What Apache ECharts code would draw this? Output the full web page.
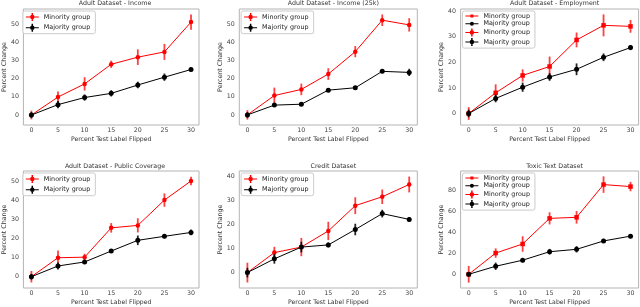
<!DOCTYPE html>
<html>
<head>
<meta charset="utf-8">
<script src="https://cdn.jsdelivr.net/npm/echarts@6/dist/echarts.min.js"></script>
<style>
html,body{margin:0;padding:0;background:#fff;}
#chart{width:640px;height:307px;}
</style>
</head>
<body>
<div id="chart"></div>
<script>
// ---- data ----
var flipped = [0, 5, 10, 15, 20, 25, 30];
var xTicks = [0, 5, 10, 15, 20, 25, 30];

var titles = ['Adult Dataset - Income', 'Adult Dataset - Income (25k)', 'Adult Dataset - Employment',
              'Adult Dataset - Public Coverage', 'Credit Dataset', 'Toxic Text Dataset'];

var incomeMin     = [0, 9.9, 17.1, 27.9, 31.8, 34.7, 51.1];
var incomeMinErr  = [2.4, 3.0, 3.7, 2.0, 4.3, 4.4, 4.2];
var incomeMaj     = [0, 5.7, 9.6, 11.9, 16.5, 20.8, 25.0];
var incomeMajErr  = [1.5, 2.0, 1.7, 1.7, 1.8, 2.0, 1.0];

var income25Min    = [0, 10.7, 14.1, 22.6, 35.0, 52.4, 49.8];
var income25MinErr = [2.6, 4.4, 3.2, 3.2, 3.1, 3.2, 3.7];
var income25Maj    = [0, 5.4, 5.9, 13.7, 15.0, 24.1, 23.5];
var income25MajErr = [1.5, 1.0, 1.0, 1.0, 1.0, 1.0, 2.0];

var employMin    = [0, 8.1, 14.9, 18.4, 28.8, 34.5, 34.1];
var employMinErr = [2.5, 3.3, 2.4, 3.9, 2.9, 4.3, 2.5];
var employMaj    = [0, 5.9, 10.3, 14.3, 17.3, 22.0, 25.8];
var employMajErr = [1.5, 1.5, 1.8, 1.5, 2.3, 1.5, 1.0];

var publicMin    = [0, 9.9, 10.2, 25.5, 26.8, 40.0, 50.0];
var publicMinErr = [3.0, 3.8, 1.8, 2.5, 3.7, 3.5, 2.2];
var publicMaj    = [0, 5.6, 7.7, 13.4, 19.0, 21.1, 23.1];
var publicMajErr = [1.5, 1.8, 1.0, 1.0, 2.5, 1.0, 1.5];

var creditMin    = [0, 8.3, 10.6, 17.3, 27.8, 31.5, 36.6];
var creditMinErr = [4.1, 2.4, 3.8, 3.8, 3.5, 3.0, 3.3];
var creditMaj    = [0, 5.7, 10.6, 11.5, 17.9, 24.5, 22.1];
var creditMajErr = [2.0, 2.0, 2.2, 1.0, 2.4, 1.6, 1.0];

var toxicMin    = [0, 20.3, 29.0, 53.5, 54.5, 85.8, 83.9];
var toxicMinErr = [8.0, 4.5, 7.4, 5.8, 6.0, 7.9, 4.5];
var toxicMaj    = [0, 7.7, 13.5, 21.6, 23.9, 31.9, 36.5];
var toxicMajErr = [2.0, 3.5, 2.0, 2.7, 3.0, 2.0, 2.0];

var yTicks = [
  [0, 10, 20, 30, 40, 50],
  [0, 10, 20, 30, 40, 50],
  [0, 10, 20, 30, 40],
  [0, 10, 20, 30, 40, 50],
  [0, 10, 20, 30, 40],
  [0, 20, 40, 60, 80]
];
var yRanges = [[-5.5, 58.3], [-5.6, 58.6], [-4.5, 40.9], [-5.9, 55.2], [-6.4, 42.2], [-13.1, 98.8]];

var panelsData = [
  [incomeMin, incomeMinErr, incomeMaj, incomeMajErr],
  [income25Min, income25MinErr, income25Maj, income25MajErr],
  [employMin, employMinErr, employMaj, employMajErr],
  [publicMin, publicMinErr, publicMaj, publicMajErr],
  [creditMin, creditMinErr, creditMaj, creditMajErr],
  [toxicMin, toxicMinErr, toxicMaj, toxicMajErr]
];
var fourEntryLegend = [false, false, true, false, false, true];

// ---- layout / style ----
var FONT = 'DejaVu Sans';
var RED = '#ff0000', BLACK = '#000000';
var colLeft = [21, 239.3, 460.6];
var rowTop = [9, 171];
var rowH = [116, 117];
var gridW = 178;
var errIcon = 'path://M0,3.5H13V4.5H0Z M5.75,0H7.25V8H5.75Z M8.75,4A2.25,2.25 0 1 1 4.25,4A2.25,2.25 0 1 1 8.75,4Z';
var sqIcon = 'path://M0,1H13V2H0Z M5,0H8V3H5Z';
var dotIcon = 'path://M0,1.5H13V2.5H0Z M8.5,2A2,2 0 1 1 4.5,2A2,2 0 1 1 8.5,2Z';

function errRender(color, width) {
  return function (params, api) {
    var x = api.value(0), y = api.value(1), e = api.value(2);
    var p1 = api.coord([x, y - e]);
    var p2 = api.coord([x, y + e]);
    return {
      type: 'line',
      shape: { x1: p1[0], y1: p1[1], x2: p2[0], y2: p2[1] },
      style: { stroke: color, lineWidth: width }
    };
  };
}

function buildOption() {
  var grids = [], xAxes = [], yAxes = [], series = [], legends = [], titleArr = [];
  for (var p = 0; p < 6; p++) {
    var r = Math.floor(p / 3), c = p % 3;
    var gLeft = colLeft[c], gTop = rowTop[r], gH = rowH[r];
    grids.push({ left: gLeft, top: gTop, width: gridW, height: gH, show: true,
      borderColor: '#b4b4b4', borderWidth: 1, backgroundColor: '#fff' });
    xAxes.push({
      type: 'value', gridIndex: p, min: -1.5, max: 31.5,
      name: 'Percent Test Label Flipped', nameLocation: 'middle', nameGap: 11.5,
      nameTextStyle: { fontFamily: FONT, fontSize: 6.2, color: '#333' },
      axisLine: { show: false }, axisTick: { show: false }, splitLine: { show: false },
      axisLabel: { customValues: xTicks, fontFamily: FONT, fontSize: 6.3, color: '#444', margin: 2.5 }
    });
    yAxes.push({
      type: 'value', gridIndex: p, min: yRanges[p][0], max: yRanges[p][1],
      name: 'Percent Change', nameLocation: 'middle', nameGap: 13.5,
      nameTextStyle: { fontFamily: FONT, fontSize: 6.3, color: '#333' },
      axisLine: { show: false }, axisTick: { show: false }, splitLine: { show: false },
      axisLabel: { customValues: yTicks[p], fontFamily: FONT, fontSize: 6.3, color: '#444', margin: 4.5 }
    });
    titleArr.push({
      text: titles[p], left: gLeft + gridW / 2, top: r === 0 ? -4.8 : 158.3, textAlign: 'center',
      textStyle: { fontFamily: FONT, fontSize: 6.3, fontWeight: 'normal', color: '#333' }
    });

    var d = panelsData[p];
    var minName = 'Minority group|' + p, majName = 'Majority group|' + p;
    var minLine = [], majLine = [], minErr = [], majErr = [];
    for (var i = 0; i < flipped.length; i++) {
      minLine.push([flipped[i], d[0][i]]);
      majLine.push([flipped[i], d[2][i]]);
      minErr.push([flipped[i], d[0][i], d[1][i]]);
      majErr.push([flipped[i], d[2][i], d[3][i]]);
    }
    var four = fourEntryLegend[p];
    var minErrName = four ? 'Minority group|' + p + 'e' : minName + 'x';
    var majErrName = four ? 'Majority group|' + p + 'e' : majName + 'x';

    series.push({
      type: 'custom', name: minErrName, xAxisIndex: p, yAxisIndex: p, data: minErr,
      renderItem: errRender('rgba(255,0,0,0.75)', 1.8), itemStyle: { color: RED }, z: 2, silent: true
    });
    series.push({
      type: 'line', name: minName, xAxisIndex: p, yAxisIndex: p, data: minLine,
      symbol: four ? 'rect' : 'circle', symbolSize: 4.5, showSymbol: true,
      lineStyle: { color: RED, width: 1 }, itemStyle: { color: RED }, z: 3
    });
    series.push({
      type: 'custom', name: majErrName, xAxisIndex: p, yAxisIndex: p, data: majErr,
      renderItem: errRender('rgba(0,0,0,0.85)', 1.8), itemStyle: { color: BLACK }, z: 4, silent: true
    });
    series.push({
      type: 'line', name: majName, xAxisIndex: p, yAxisIndex: p, data: majLine,
      symbol: 'circle', symbolSize: 5, showSymbol: true,
      lineStyle: { color: BLACK, width: 1 }, itemStyle: { color: BLACK }, z: 5
    });

    var legData;
    if (four) {
      legData = [{ name: minName, icon: sqIcon }, { name: majName, icon: dotIcon },
                 { name: minErrName, icon: errIcon }, { name: majErrName, icon: errIcon }];
    } else {
      legData = [{ name: minName, icon: errIcon }, { name: majName, icon: errIcon }];
    }
    legends.push({
      data: legData, orient: 'vertical', left: gLeft + 1.8, top: gTop + 2,
      itemWidth: 13, itemHeight: 8, itemGap: four ? 1.7 : 2.7, symbolKeepAspect: true,
      padding: [2, 5, 2, 3], borderColor: '#cccccc', borderWidth: 1, borderRadius: 2,
      backgroundColor: 'rgba(255,255,255,0.85)',
      selectedMode: false,
      textStyle: { fontFamily: FONT, fontSize: 6.4, color: '#222' },
      formatter: function (n) { return n.split('|')[0]; }
    });
  }
  return {
    animation: false,
    backgroundColor: '#ffffff',
    title: titleArr,
    grid: grids,
    xAxis: xAxes,
    yAxis: yAxes,
    legend: legends,
    series: series
  };
}

var chart = echarts.init(document.getElementById('chart'), null, { renderer: 'canvas' });
chart.setOption(buildOption());
</script>
</body>
</html>
